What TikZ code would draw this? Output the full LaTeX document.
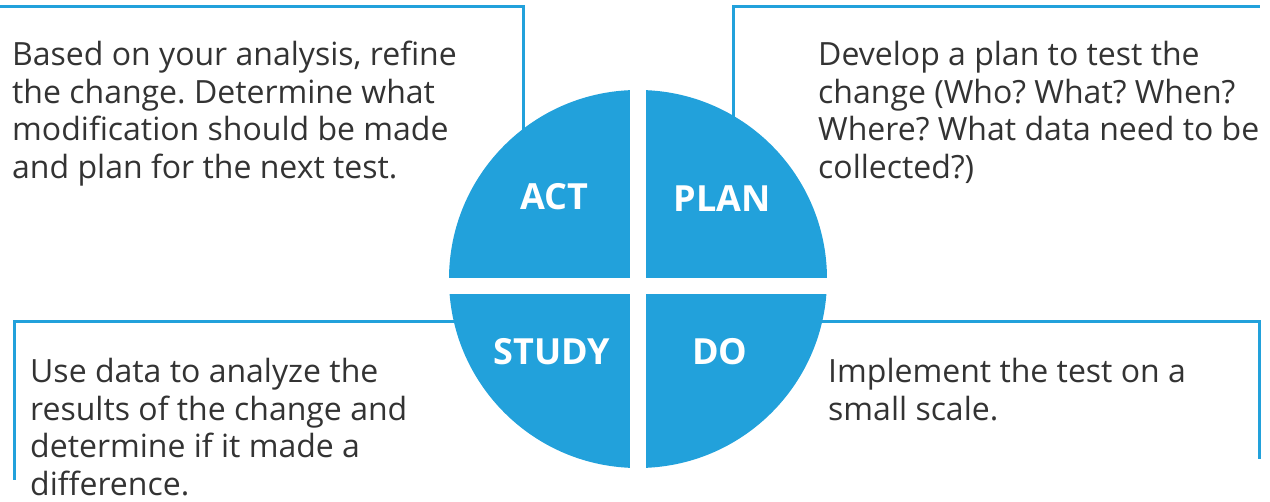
\documentclass[tikz,border=0pt]{standalone}
\usepackage{fontspec}
\setmainfont{Open Sans}
\frenchspacing
\definecolor{pdsablue}{HTML}{22A1DB}
\definecolor{pdsatext}{HTML}{333333}
\tikzset{
  phase/.style={text=white, font=\fontsize{36}{40}\selectfont\bfseries, inner sep=0pt},
  note/.style={text=pdsatext, font=\fontsize{32}{37.5}\selectfont, align=left, anchor=base west, inner sep=0pt},
  frame/.style={pdsablue, line width=3pt}
}
\begin{document}
\begin{tikzpicture}[x=1pt,y=-1pt]
    \useasboundingbox (0,0) rectangle (1270,502);
    % brackets behind the wheel
    \draw[frame] (0,7) -- (523,7) -- (523,200);
    \draw[frame] (733,200) -- (733,7) -- (1260,7);
    \draw[frame] (14,480) -- (14,322) -- (520,322);
    \draw[frame] (760,322) -- (1259,322) -- (1259,459);
    % the wheel
    \fill[pdsablue] (638,279) circle (189);
    \fill[white] (630,80) rectangle (646,480);
    \fill[white] (440,278) rectangle (840,294);
    \node[phase] (act) at (554,197) {ACT};
    \node[phase] (plan) at (722,199) {PLAN};
    \node[phase] (study) at (552,352) {STUDY};
    \node[phase] (do) at (720,352) {DO};
    % texts (base = baseline of the last line)
    \node[note] (actnote) at (12,178.5) {Based on your analysis, refine\\the change. Determine what\\modification should be made\\and plan for the next test.};
    \node[note] (plannote) at (818,178.5) {Develop a plan to test the\\change (Who? What? When?\\Where? What data need to be\\collected?)};
    \node[note] (studynote) at (30,495.5) {Use data to analyze the\\results of the change and\\determine if it made a\\difference.};
    \node[note] (donote) at (828,420.5) {Implement the test on a\\small scale.};
\end{tikzpicture}
\end{document}
